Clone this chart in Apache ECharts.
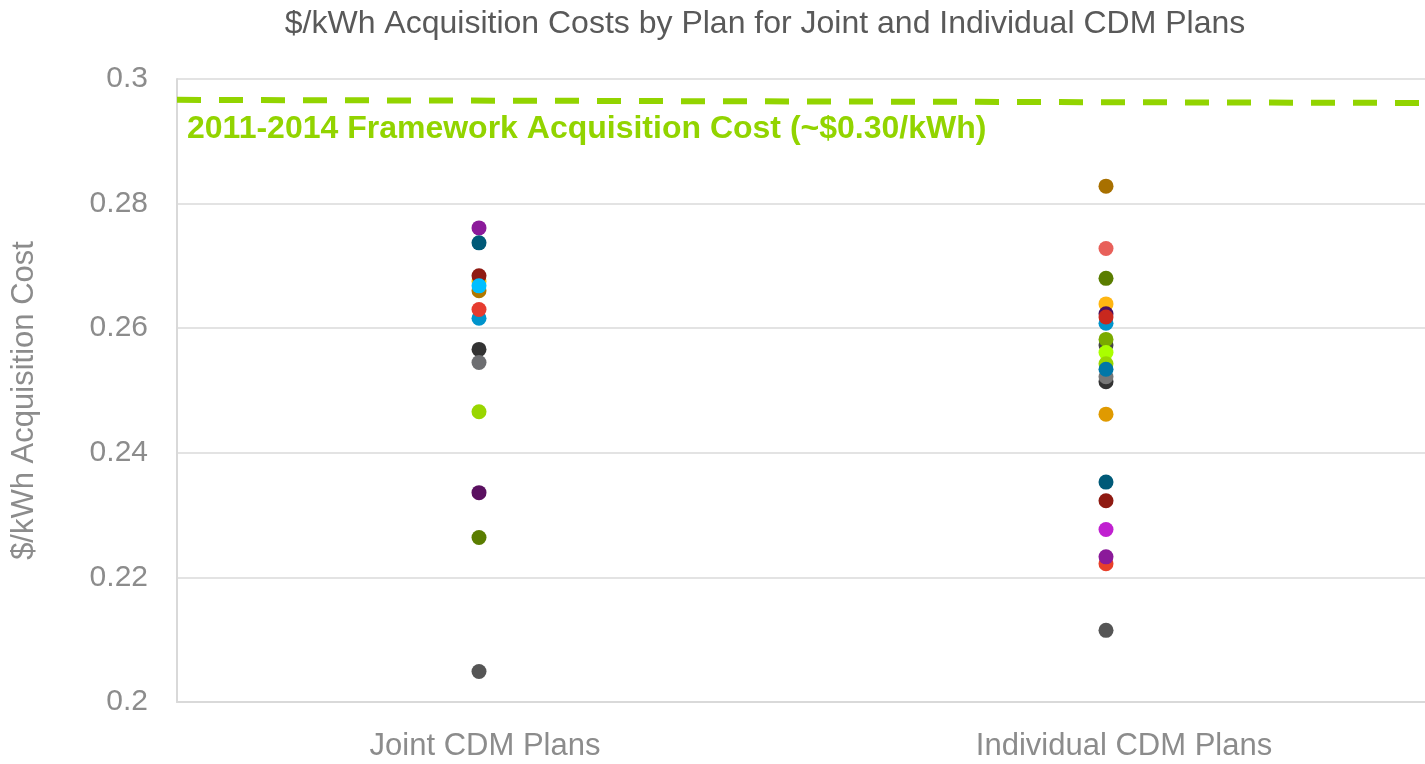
<!DOCTYPE html>
<html>
<head>
<meta charset="utf-8">
<title>$/kWh Acquisition Costs by Plan</title>
<script src="https://cdn.jsdelivr.net/npm/echarts@6/dist/echarts.min.js"></script>
<style>
  html, body { margin: 0; padding: 0; background: #fff; }
  #chart { width: 1425px; height: 764px; }
</style>
</head>
<body>
<div id="chart"></div>
<script>
// categories and values
var categories = ['Joint CDM Plans', 'Individual CDM Plans'];

// joint plans ($/kWh), in drawing order
var jointValues = [0.2761, 0.2737, 0.2675, 0.2660, 0.2684, 0.2668, 0.2616, 0.2630,
  0.2566, 0.2545, 0.2466, 0.2336, 0.2264, 0.2049];
var jointColors = ['#8b1a9a', '#005a78', '#f2c200', '#b07800', '#8f1a12', '#00bfff', '#0094cc', '#e63c2f',
  '#333333', '#6d6e71', '#99d600', '#5a1060', '#5a7d00', '#555555'];

// individual plans ($/kWh), in drawing order
var individualValues = [0.2828, 0.2728, 0.2680, 0.2639, 0.2623, 0.2608, 0.2618, 0.2573,
  0.2582, 0.2561, 0.2543, 0.2514, 0.2522, 0.2534, 0.2462, 0.2353, 0.2323, 0.2277,
  0.2222, 0.2233, 0.2115];
var individualColors = ['#a87000', '#e8605a', '#5a7d00', '#ffb612', '#4a1060', '#0094cc', '#c8281e', '#444444',
  '#7aaa00', '#aaff00', '#99d600', '#333333', '#777777', '#0077a8', '#e09a00', '#005a78', '#8f1a12', '#c020d0',
  '#e8402a', '#8b1a9a', '#555555'];

// framework reference line, slightly sloped in the original (left end, right end)
var frameworkCost = [0.29665, 0.29615];
var frameworkLabel = '2011-2014 Framework Acquisition Cost (~$0.30/kWh)';

var yTicks = { min: 0.2, max: 0.3, interval: 0.02 };

(function(){
	function points(catIndex, values, colors){
		return values.map(function(v, i){
			return { value: [catIndex, v], itemStyle: { color: colors[i], opacity: 1 } };
		});
	}

	var option = {
		animation: false,
		textStyle: { fontFamily: 'Liberation Sans, Arial, sans-serif' },
		title: {
			text: '$/kWh Acquisition Costs by Plan for Joint and Individual CDM Plans',
			left: 760,
			textAlign: 'center',
			top: 3,
			textStyle: { fontSize: 32, fontWeight: 'normal', color: '#595959' }
		},
		grid: { left: 177, right: 0, top: 79, bottom: 62 },
		xAxis: [{
			type: 'category',
			data: categories,
			boundaryGap: true,
			axisTick: { show: false },
			axisLine: { lineStyle: { color: '#d9d9d9', width: 2 } },
			axisLabel: {
				fontSize: 31, color: '#8c8c8c', margin: 29,
				formatter: function(v, i){ return i === 0 ? '{a|' + v + '}' : '{b|' + v + '}'; },
				rich: {
					a: { fontSize: 31, color: '#8c8c8c', padding: [0, 8, 0, 0] },
					b: { fontSize: 31, color: '#8c8c8c', padding: [0, 0, 0, 22] }
				}
			}
		}, {
			// hidden helper axis spanning the plot width for the framework line
			type: 'value',
			min: 0,
			max: 1,
			show: false
		}],
		yAxis: {
			type: 'value',
			min: yTicks.min,
			max: yTicks.max,
			interval: yTicks.interval,
			name: '$/kWh Acquisition Cost',
			nameLocation: 'middle',
			nameGap: 137,
			nameTextStyle: { fontSize: 31, color: '#8c8c8c', padding: [0, 20, 0, 0] },
			axisLine: { show: true, lineStyle: { color: '#d9d9d9', width: 2 } },
			axisTick: { show: false },
			splitLine: { lineStyle: { color: '#e3e3e3', width: 2 } },
			axisLabel: {
				fontSize: 30, color: '#8c8c8c', margin: 29,
				formatter: function(v){ return String(parseFloat(v.toFixed(2))); }
			}
		},
		graphic: [{
			type: 'text',
			left: 187,
			top: 113,
			style: {
				text: frameworkLabel,
				fill: '#92d400',
				font: 'bold 32px "Liberation Sans", Arial, sans-serif'
			}
		}],
		series: [
			{
				name: 'Framework',
				type: 'line',
				xAxisIndex: 1,
				symbol: 'none',
				silent: true,
				lineStyle: { color: '#92d400', width: 6, type: [24, 18] },
				data: [[0, frameworkCost[0]], [1, frameworkCost[1]]]
			},
			{
				name: categories[0],
				type: 'scatter',
				symbolSize: 15,
				symbolOffset: [-10, 0],
				data: points(0, jointValues, jointColors)
			},
			{
				name: categories[1],
				type: 'scatter',
				symbolSize: 15,
				symbolOffset: [-7, 0],
				data: points(1, individualValues, individualColors)
			}
		]
	};

	var myChart = echarts.init(document.getElementById('chart'));
	myChart.setOption(option);
})();
</script>
</body>
</html>
